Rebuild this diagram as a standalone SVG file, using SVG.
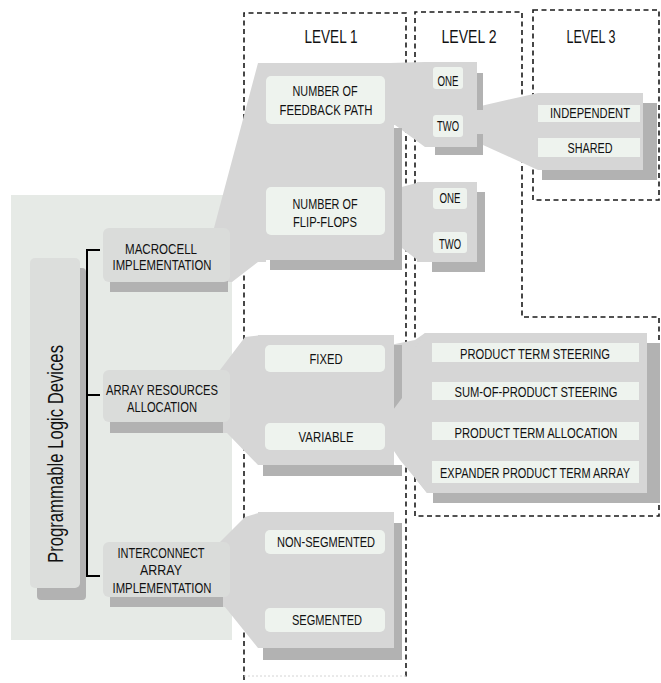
<svg xmlns="http://www.w3.org/2000/svg" width="661" height="683" viewBox="0 0 661 683">
<style>
  text{font-family:"Liberation Sans",Arial,sans-serif;fill:#111;text-anchor:middle}
  .t{font-size:14px}
  .h{font-size:18px}
  .body{fill:#d6d6d6}
  .node{fill:#dadcda}
  .shadow{fill:#b2b2b2}
  .cell{fill:#eef3ee}
  .funnel{fill:#d6d6d6}
  .dash{fill:none;stroke:#1a1a1a;stroke-width:1.6;stroke-dasharray:5 3.5}
  .wire{fill:none;stroke:#000;stroke-width:2}
</style>
<rect width="661" height="683" fill="#fff"/>
<!-- backdrop behind the top-level tree -->
<rect x="11" y="195" width="221" height="445" fill="#e6eae6"/>

<!-- level frames -->
<g id="levels">
  <path class="dash" d="M244,680 V13 H406 V680"/>
  <line x1="244" y1="676" x2="406" y2="676" stroke="#d4d4d4" stroke-width="1" stroke-dasharray="2 2"/>
  <path class="dash" d="M415,516 V12 H522 V317 H659 V516 Z"/>
  <rect class="dash" x="533" y="10" width="126" height="190"/>
  <text class="h" x="331" y="43" textLength="53" lengthAdjust="spacingAndGlyphs">LEVEL 1</text>
  <text class="h" x="469" y="43" textLength="55" lengthAdjust="spacingAndGlyphs">LEVEL 2</text>
  <text class="h" x="591" y="43" textLength="49" lengthAdjust="spacingAndGlyphs">LEVEL 3</text>
</g>

<!-- connectors: bracket and widening bands -->
<g id="connectors">
  <path class="wire" d="M100,250 H87 V576 H100 M87,395 H100"/>
  <polygon class="funnel" points="214,228 258,63 266,63 266,262 258,262 232,282 214,282"/>
  <polygon class="funnel" points="220,370 245,337 262,335 262,465 258,465 227,433 220,433"/>
  <polygon class="funnel" points="220,542 245,517 262,512 262,648 258,648 225,607 220,607"/>
  <polygon class="funnel" points="390,63 425,62 430,62 430,147 425,147 395,125 390,125"/>
  <polygon class="funnel" points="398,188 420,182 420,262 398,245"/>
  <polygon class="funnel" points="390,345 415,340 425,333 430,333 430,493 427,493 415,478 400,460 390,445"/>
  <polygon class="funnel" points="472,108 538,93 545,93 545,170 538,170 472,140"/>
</g>

<!-- root -->
<g id="root">
  <rect class="shadow" x="37" y="268" width="49" height="332" rx="4"/>
  <rect x="30" y="258" width="50" height="330" rx="5" fill="#dcdedc"/>
  <text transform="translate(63,454) rotate(-90)" font-size="22" textLength="218" lengthAdjust="spacingAndGlyphs">Programmable Logic Devices</text>
</g>

<!-- first split -->
<g id="macrocell">
  <rect class="shadow" x="110" y="238" width="118" height="54"/>
  <rect class="node" x="103" y="228" width="127" height="54" rx="6"/>
  <text class="t" x="161" y="254" textLength="72" lengthAdjust="spacingAndGlyphs">MACROCELL</text>
  <text class="t" x="162" y="270" textLength="99" lengthAdjust="spacingAndGlyphs">IMPLEMENTATION</text>
</g>
<g id="array-resources">
  <rect class="shadow" x="110" y="380" width="113" height="53"/>
  <rect class="node" x="103" y="370" width="127" height="52" rx="6"/>
  <text class="t" x="162" y="395" textLength="112" lengthAdjust="spacingAndGlyphs">ARRAY RESOURCES</text>
  <text class="t" x="162" y="412" textLength="70" lengthAdjust="spacingAndGlyphs">ALLOCATION</text>
</g>
<g id="interconnect">
  <rect class="shadow" x="110" y="552" width="113" height="55"/>
  <rect class="node" x="103" y="542" width="127" height="55" rx="6"/>
  <text class="t" x="161" y="558" textLength="87" lengthAdjust="spacingAndGlyphs">INTERCONNECT</text>
  <text class="t" x="161" y="575" textLength="42" lengthAdjust="spacingAndGlyphs">ARRAY</text>
  <text class="t" x="162" y="593" textLength="99" lengthAdjust="spacingAndGlyphs">IMPLEMENTATION</text>
</g>

<!-- level 1 -->
<g id="macrocell-options">
  <rect class="shadow" x="270" y="128" width="132" height="142"/>
  <rect class="body" x="263" y="63" width="131" height="197"/>
  <g id="feedback-paths">
    <rect class="cell" x="266" y="76" width="119" height="48" rx="5"/>
    <text class="t" x="325" y="96" textLength="65" lengthAdjust="spacingAndGlyphs">NUMBER OF</text>
    <text class="t" x="326" y="115" textLength="93" lengthAdjust="spacingAndGlyphs">FEEDBACK PATH</text>
  </g>
  <g id="flip-flops">
    <rect class="cell" x="266" y="187" width="119" height="48" rx="5"/>
    <text class="t" x="325" y="209" textLength="65" lengthAdjust="spacingAndGlyphs">NUMBER OF</text>
    <text class="t" x="325" y="227" textLength="64" lengthAdjust="spacingAndGlyphs">FLIP-FLOPS</text>
  </g>
</g>
<g id="allocation-options">
  <path class="shadow" d="M393,345 H402 V398 L393,410 Z M263,465 H402 V476 H263 Z"/>
  <rect class="body" x="258" y="335" width="136" height="130"/>
  <g id="fixed">
    <rect class="cell" x="265" y="345" width="120" height="27" rx="5"/>
    <text class="t" x="326" y="364" textLength="33" lengthAdjust="spacingAndGlyphs">FIXED</text>
  </g>
  <g id="variable">
    <rect class="cell" x="265" y="423" width="120" height="27" rx="5"/>
    <text class="t" x="326" y="442" textLength="55" lengthAdjust="spacingAndGlyphs">VARIABLE</text>
  </g>
</g>
<g id="interconnect-options">
  <rect class="shadow" x="263" y="523" width="139" height="137"/>
  <rect class="body" x="258" y="512" width="136" height="136"/>
  <g id="non-segmented">
    <rect class="cell" x="265" y="530" width="120" height="24" rx="5"/>
    <text class="t" x="326" y="547" textLength="98" lengthAdjust="spacingAndGlyphs">NON-SEGMENTED</text>
  </g>
  <g id="segmented">
    <rect class="cell" x="265" y="608" width="120" height="24" rx="5"/>
    <text class="t" x="327" y="625" textLength="70" lengthAdjust="spacingAndGlyphs">SEGMENTED</text>
  </g>
</g>

<!-- level 2 -->
<g id="feedback-count">
  <path class="shadow" d="M477,73 H483 V110 H477 Z M477,134 H483 V155 H435 V147 H477 Z"/>
  <rect class="body" x="425" y="62" width="52" height="85"/>
  <g id="feedback-one">
    <rect class="cell" x="433" y="67" width="30" height="22" rx="3"/>
    <text class="t" x="448" y="86" textLength="21" lengthAdjust="spacingAndGlyphs">ONE</text>
  </g>
  <g id="feedback-two">
    <rect class="cell" x="433" y="115" width="30" height="22" rx="3"/>
    <text class="t" x="448" y="131" textLength="22" lengthAdjust="spacingAndGlyphs">TWO</text>
  </g>
</g>
<g id="flip-flop-count">
  <rect class="shadow" x="432" y="192" width="53" height="80"/>
  <rect class="body" x="417" y="182" width="60" height="80"/>
  <g id="ff-one">
    <rect class="cell" x="433" y="188" width="34" height="21" rx="3"/>
    <text class="t" x="450" y="203" textLength="21" lengthAdjust="spacingAndGlyphs">ONE</text>
  </g>
  <g id="ff-two">
    <rect class="cell" x="433" y="232" width="34" height="21" rx="3"/>
    <text class="t" x="450" y="249" textLength="22" lengthAdjust="spacingAndGlyphs">TWO</text>
  </g>
</g>
<g id="product-term-schemes">
  <rect class="shadow" x="433" y="343" width="227" height="160"/>
  <path class="body" d="M425,333 H647 V493 H427 L415,478 V348 Z"/>
  <g id="pt-steering">
    <rect class="cell" x="432" y="343" width="207" height="19"/>
    <text class="t" x="535" y="359" textLength="150" lengthAdjust="spacingAndGlyphs">PRODUCT TERM STEERING</text>
  </g>
  <g id="sop-steering">
    <rect class="cell" x="432" y="382" width="207" height="18"/>
    <text class="t" x="536" y="397" textLength="163" lengthAdjust="spacingAndGlyphs">SUM-OF-PRODUCT STEERING</text>
  </g>
  <g id="pt-allocation">
    <rect class="cell" x="432" y="422" width="207" height="18"/>
    <text class="t" x="536" y="438" textLength="163" lengthAdjust="spacingAndGlyphs">PRODUCT TERM ALLOCATION</text>
  </g>
  <g id="expander-array">
    <rect class="cell" x="432" y="461" width="207" height="22"/>
    <text class="t" x="535" y="478" textLength="190" lengthAdjust="spacingAndGlyphs">EXPANDER PRODUCT TERM ARRAY</text>
  </g>
</g>

<!-- level 3 -->
<g id="feedback-sharing">
  <rect class="shadow" x="542" y="103" width="115" height="77"/>
  <rect class="body" x="538" y="93" width="105" height="77"/>
  <g id="independent">
    <rect class="cell" x="538" y="105" width="102" height="17"/>
    <text class="t" x="590" y="118" textLength="80" lengthAdjust="spacingAndGlyphs">INDEPENDENT</text>
  </g>
  <g id="shared">
    <rect class="cell" x="538" y="138" width="102" height="19"/>
    <text class="t" x="590" y="153" textLength="45" lengthAdjust="spacingAndGlyphs">SHARED</text>
  </g>
</g>
</svg>
